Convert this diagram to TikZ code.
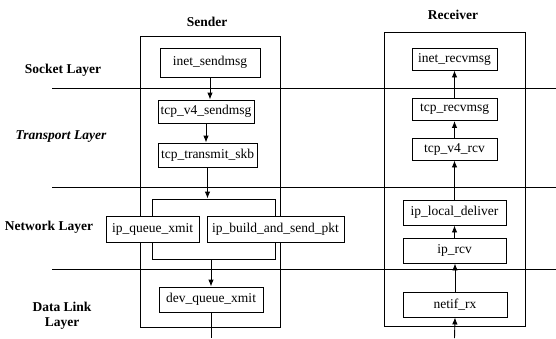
\documentclass[tikz,border=0pt]{standalone}
\usepackage{fontspec}
\setmainfont{Liberation Serif}
\usetikzlibrary{arrows.meta}
\tikzset{
  func/.style={draw, fill=white, line width=0.9pt, inner sep=2pt, minimum height=24pt, font=\fontsize{13.5}{15}\selectfont},
  layer/.style={font=\fontsize{13.5}{15}\selectfont\bfseries, align=center},
  hostbox/.style={draw, line width=0.9pt},
  call/.style={line width=0.9pt, -{Latex[length=7pt,width=5.5pt]}},
}
\begin{document}
\begin{tikzpicture}[x=1pt,y=-1pt]
\useasboundingbox (0,0) rectangle (556,338);
% layer borders
\foreach \y in {88,187,269}
\draw[line width=0.8pt] (52,\y) -- (556,\y);
% host boxes
\draw[hostbox] (140,36) rectangle (280,327);
\draw[hostbox] (384,32) rectangle (525,326);
\node[layer] (sender) at (207,22) {Sender};
\node[layer] (receiver) at (453,15) {Receiver};
% layer names
\node[layer] (socket) at (63,70) {Socket Layer};
\node[layer, font=\fontsize{13.5}{15}\selectfont\bfseries\itshape] (transport) at (61,137) {Transport Layer};
\node[layer] (network) at (49,227) {Network Layer};
\node[layer, inner sep=0pt] (datalink) at (62,316) {Data Link\\Layer};
% sender side
\node[func, minimum width=100pt, minimum height=29pt] (inetsend) at (210,62.5) {inet\_sendmsg};
\node[func, minimum width=96pt, minimum height=23pt] (tcpsend) at (206,111.5) {tcp\_v4\_sendmsg};
\node[func, minimum width=99pt] (tcpxmit) at (207.5,155) {tcp\_transmit\_skb};
\node[draw, line width=0.9pt, minimum width=123pt, minimum height=60pt] (ipgroup) at (213.5,229) {};
\node[func, minimum width=93pt, minimum height=26pt] (ipqueue) at (152.5,229) {ip\_queue\_xmit};
\node[func, minimum width=137pt, minimum height=26pt] (ipbuild) at (275.5,229) {ip\_build\_and\_send\_pkt};
\node[func, minimum width=104pt, minimum height=25pt] (devqueue) at (211,299.5) {dev\_queue\_xmit};
\coordinate (sendout) at (211,338);
\draw[call] (inetsend.south) -- (inetsend.south |- tcpsend.north);
\draw[call] (tcpsend.south) -- (tcpsend.south |- tcpxmit.north);
\draw[call] (tcpxmit.south) -- (tcpxmit.south |- ipgroup.north);
\draw[call] (ipgroup.south -| devqueue.north) -- (devqueue.north);
\draw[line width=0.9pt] (devqueue.south) -- (sendout);
% receiver side
\node[func, minimum width=85pt, minimum height=22pt] (inetrecv) at (454.5,59) {inet\_recvmsg};
\node[func, minimum width=85pt, minimum height=22pt] (tcprecv) at (454.5,109.5) {tcp\_recvmsg};
\node[func, minimum width=85pt, minimum height=22pt] (tcprcv) at (454.5,149) {tcp\_v4\_rcv};
\node[func, minimum width=103pt, minimum height=25pt] (iplocal) at (454.5,212.5) {ip\_local\_deliver};
\node[func, minimum width=103pt, minimum height=25pt] (iprcv) at (454.5,250.5) {ip\_rcv};
\node[func, minimum width=104pt, minimum height=25pt] (netif) at (455,304.5) {netif\_rx};
\coordinate (recvin) at (454.5,338);
\draw[call] (recvin) -- (netif.south);
\draw[call] (netif.north) -- (netif.north |- iprcv.south);
\draw[call] (iprcv.north) -- (iprcv.north |- iplocal.south);
\draw[call] (iplocal.north) -- (iplocal.north |- tcprcv.south);
\draw[call] (tcprcv.north) -- (tcprcv.north |- tcprecv.south);
\draw[call] (tcprecv.north) -- (tcprecv.north |- inetrecv.south);
\end{tikzpicture}
\end{document}
